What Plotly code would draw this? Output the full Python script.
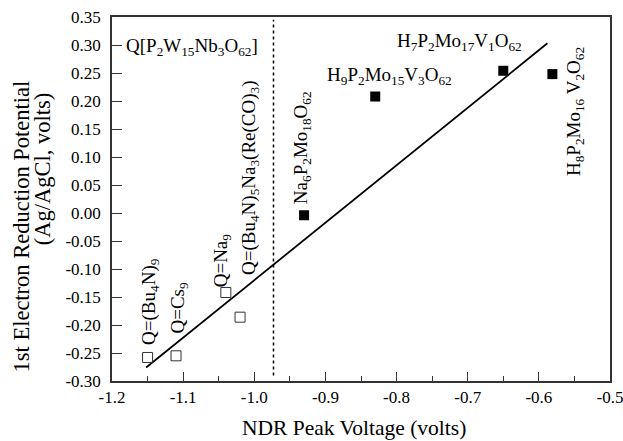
import plotly.graph_objects as go

# Data
open_x = [-1.150, -1.110, -1.040, -1.020]
open_y = [-0.258, -0.255, -0.142, -0.186]
filled_x = [-0.930, -0.830, -0.650, -0.581]
filled_y = [-0.004, 0.208, 0.254, 0.248]
fit_x = [-1.152, -0.588]
fit_y = [-0.276, 0.303]
divider_x = -0.973

x_ticks = [-1.2, -1.1, -1.0, -0.9, -0.8, -0.7, -0.6, -0.5]
x_tick_labels = ["-1.2", "-1.1", "-1.0", "-0.9", "-0.8", "-0.7", "-0.6", "-0.5"]
y_ticks = [0.35, 0.30, 0.25, 0.20, 0.15, 0.10, 0.05, 0.00, -0.05, -0.10, -0.15, -0.20, -0.25, -0.30]
y_tick_labels = ["0.35", "0.30", "0.25", "0.20", "0.15", "0.10", "0.05", "0.00",
                 "-0.05", "-0.10", "-0.15", "-0.20", "-0.25", "-0.30"]

FONT = "Liberation Serif"

fig = go.Figure()
fig.add_trace(go.Scatter(x=fit_x, y=fit_y, mode="lines",
                         line=dict(color="black", width=1.8), showlegend=False))
fig.add_trace(go.Scatter(x=open_x, y=open_y, mode="markers",
                         marker=dict(symbol="square-open", size=10, color="#333",
                                     line=dict(width=1)), showlegend=False))
fig.add_trace(go.Scatter(x=filled_x, y=filled_y, mode="markers",
                         marker=dict(symbol="square", size=10, color="black"),
                         showlegend=False))

fig.add_shape(type="line", x0=divider_x, x1=divider_x, y0=-0.29, y1=0.345,
              xref="x", yref="y", line=dict(color="black", width=1.5, dash="dot"))

labels = [
    ("Q[P<sub>2</sub>W<sub>15</sub>Nb<sub>3</sub>O<sub>62</sub>]", -1.087, 0.296, 0),
    ("H<sub>9</sub>P<sub>2</sub>Mo<sub>15</sub>V<sub>3</sub>O<sub>62</sub>", -0.810, 0.245, 0),
    ("H<sub>7</sub>P<sub>2</sub>Mo<sub>17</sub>V<sub>1</sub>O<sub>62</sub>", -0.712, 0.305, 0),
    ("H<sub>8</sub>P<sub>2</sub>Mo<sub>16</sub> V<sub>2</sub>O<sub>62</sub>", -0.550, 0.181, -90),
    ("Na<sub>6</sub>P<sub>2</sub>Mo<sub>18</sub>O<sub>62</sub>", -0.932, 0.117, -90),
    ("Q=(Bu<sub>4</sub>N)<sub>5</sub>Na<sub>3</sub>(Re(CO)<sub>3</sub>)", -1.007, 0.063, -90),
    ("Q=Na<sub>9</sub>", -1.045, -0.084, -90),
    ("Q=(Bu<sub>4</sub>N)<sub>9</sub>", -1.146, -0.158, -90),
    ("Q=Cs<sub>9</sub>", -1.106, -0.169, -90),
]
for text, lx, ly, ang in labels:
    fig.add_annotation(text=text, x=lx, y=ly, xref="x", yref="y", showarrow=False,
                       textangle=ang, xanchor="center", yanchor="middle",
                       font=dict(family=FONT, size=19, color="black"))

# axis titles
fig.add_annotation(text="NDR Peak Voltage (volts)", x=0.486, y=0, xref="paper", yref="paper",
                   yshift=-47, showarrow=False, xanchor="center", yanchor="middle",
                   font=dict(family=FONT, size=21.5, color="black"))
fig.add_annotation(text="1st Electron Reduction Potential", x=0, y=0.4245,
                   xref="paper", yref="paper", xshift=-91, showarrow=False, textangle=-90,
                   xanchor="center", yanchor="middle",
                   font=dict(family=FONT, size=22.5, color="black"))
fig.add_annotation(text="(Ag/AgCl, volts)", x=0, y=0.582,
                   xref="paper", yref="paper", xshift=-70, showarrow=False, textangle=-90,
                   xanchor="center", yanchor="middle",
                   font=dict(family=FONT, size=22.5, color="black"))

axis_common = dict(showline=True, linecolor="#333", linewidth=1.5, mirror=True,
                   ticks="inside", tickcolor="#333", showgrid=False, zeroline=False,
                   automargin=False, ticklabeloverflow="allow",
                   tickfont=dict(family=FONT, size=17, color="black"))
fig.update_xaxes(range=[-1.2, -0.5], tickvals=x_ticks, ticktext=x_tick_labels,
                 ticklen=9, tickwidth=1,
                 minor=dict(ticks="inside", ticklen=5, dtick=0.05, tickcolor="#333",
                            showgrid=False),
                 **axis_common)
fig.update_yaxes(range=[-0.30, 0.35], tickvals=y_ticks, ticktext=y_tick_labels,
                 ticklen=10, tickwidth=1, ticklabelstandoff=6,
                 **axis_common)
fig.update_layout(width=623, height=441, margin=dict(l=112, r=13, t=17, b=60),
                  plot_bgcolor="white", paper_bgcolor="white",
                  font=dict(family=FONT, color="black"))
fig.write_html("out.html", config={"displayModeBar": False},
               post_script="document.body.style.margin='0';")
